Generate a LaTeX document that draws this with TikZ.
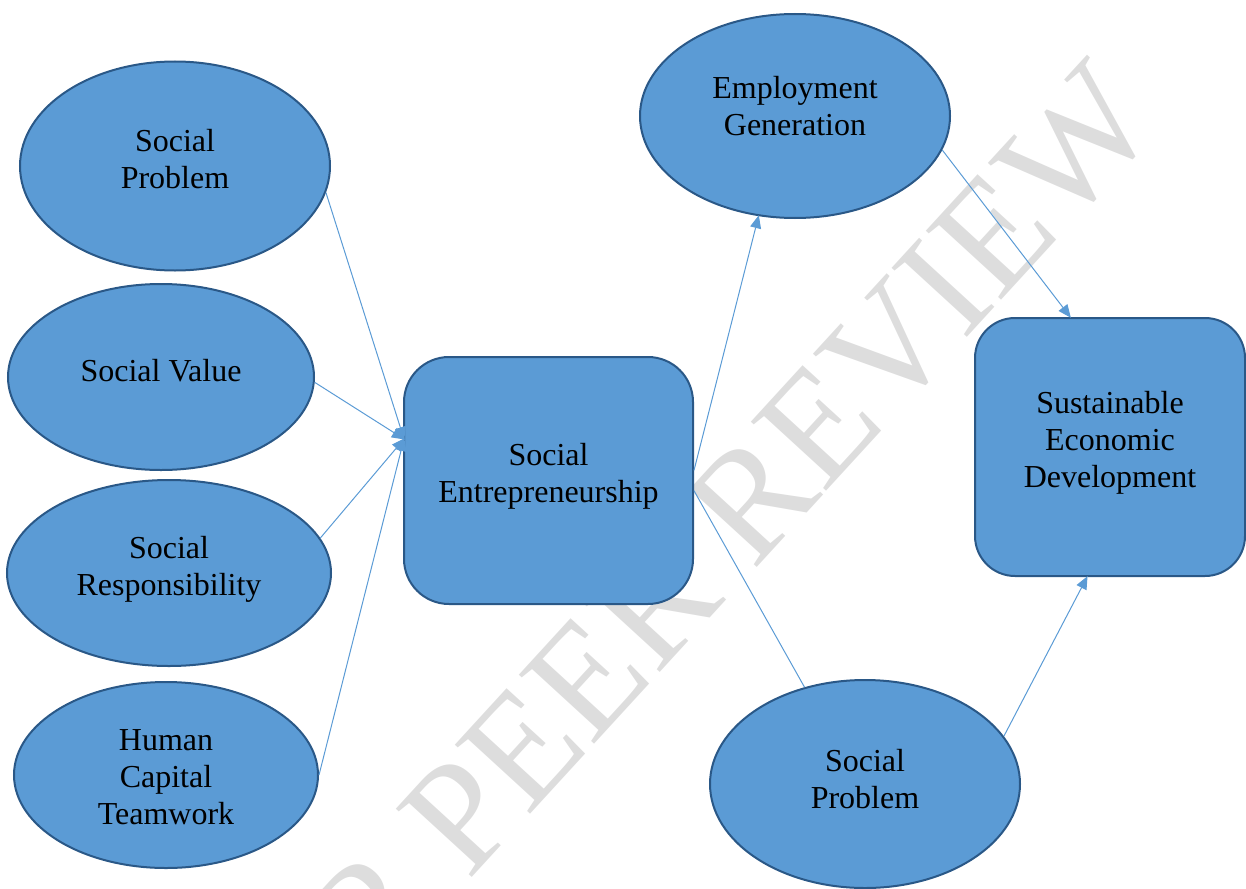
\documentclass[tikz,border=0pt]{standalone}
\usepackage{fontspec}
\setmainfont{Liberation Serif}
\usetikzlibrary{arrows.meta,shapes.geometric}
\definecolor{fillblue}{HTML}{5B9BD5}
\definecolor{edgeblue}{HTML}{2A5887}
\definecolor{linkblue}{HTML}{5B9BD5}
\definecolor{wmgray}{HTML}{DDDDDD}
\tikzset{
  ell/.style={ellipse, draw=edgeblue, fill=fillblue, line width=2pt, inner sep=0pt},
  rbox/.style={rectangle, draw=edgeblue, fill=fillblue, line width=2pt, inner sep=0pt},
  txt/.style={align=center, inner sep=0pt, font=\fontsize{32}{37}\selectfont},
  link/.style={draw=linkblue, line width=1pt},
  arr/.style={link, -{Triangle[length=13pt,width=11pt]}, shorten >=-1pt}
}
\begin{document}
\begin{tikzpicture}[x=1pt,y=-1pt]
\useasboundingbox (0,0) rectangle (1246,888);
\clip (0,0) rectangle (1246,888);
% watermark
\node[rotate=47.5, text=wmgray, inner sep=0pt, font=\fontsize{156}{156}\selectfont] (wm) at (663,595) {FOR PEER REVIEW};
% shapes
\node[ell, minimum width=310pt, minimum height=209pt] (sp) at (175,166) {};
\node[ell, minimum width=306pt, minimum height=186pt] (sv) at (161,377) {};
\node[ell, minimum width=324pt, minimum height=186pt] (sr) at (169,573) {};
\node[ell, minimum width=304pt, minimum height=186pt] (hc) at (166,775) {};
\node[ell, minimum width=310pt, minimum height=204pt] (eg) at (795,116) {};
\node[ell, minimum width=310pt, minimum height=208pt] (sp2) at (865,784) {};
\node[rbox, rounded corners=45pt, minimum width=289pt, minimum height=247pt] (se) at (548.5,480.5) {};
\node[rbox, rounded corners=40pt, minimum width=270pt, minimum height=258pt] (sed) at (1110,447) {};
% texts
\node[txt] (tsp) at (175,159) {Social\\Problem};
\node[txt] (tsv) at (161,371) {Social Value};
\node[txt] (tsr) at (169,569) {Social\\Responsibility};
\node[txt] (thc) at (166,777) {Human\\Capital\\Teamwork};
\node[txt] (teg) at (795,106.5) {Employment\\Generation};
\node[txt] (tsp2) at (865,779.5) {Social\\Problem};
\node[txt] (tse) at (548.5,476) {Social\\Entrepreneurship};
\node[txt] (tsed) at (1110,442.5) {Sustainable\\Economic\\Development};
% connectors
\coordinate (hub) at (404,439);
\draw[arr] (sp.-10) -- (hub);
\draw[arr] (sv.-2) -- (hub);
\draw[arr] (sr.13) -- (hub);
\draw[arr] (hc.east) -- (hub);
\draw[arr] (se.4) -- (eg.-110);
\draw[arr] (eg.-13) -- (sed.107);
\draw[link] (se.-4) -- (sp2.122);
\draw[arr] (sp2.19) -- (sed.-100);
\end{tikzpicture}
\end{document}
